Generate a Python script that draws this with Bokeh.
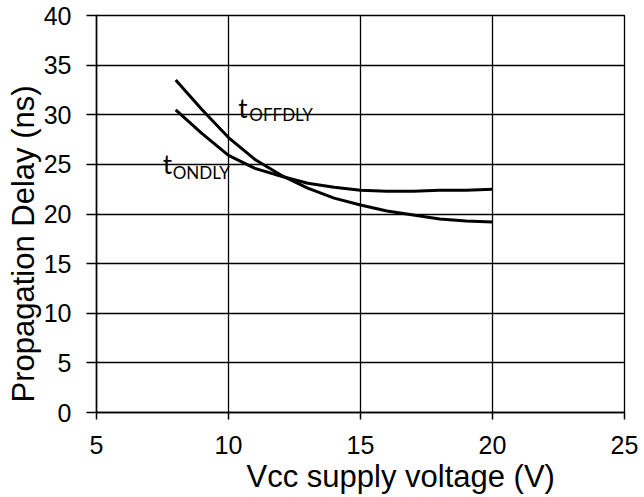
from bokeh.plotting import figure
from bokeh.models import Label, FixedTicker, Title
from bokeh.embed import file_html
from bokeh.resources import INLINE

# Data
vcc = [8, 9, 10, 11, 12, 13, 14, 15, 16, 17, 18, 19, 20]
t_offdly = [33.5, 30.5, 27.7, 25.5, 23.9, 22.6, 21.6, 20.9, 20.3, 19.9, 19.5, 19.3, 19.2]
t_ondly = [30.5, 28.1, 25.9, 24.6, 23.8, 23.1, 22.7, 22.4, 22.3, 22.3, 22.4, 22.4, 22.5]
x_ticks = [5, 10, 15, 20, 25]
y_ticks = [0, 5, 10, 15, 20, 25, 30, 35, 40]
x_title = "Vcc supply voltage (V)"
y_title = "Propagation Delay (ns)"

p = figure(frame_width=528, frame_height=397, output_backend="svg", toolbar_location=None,
           x_range=(5, 25), y_range=(0, 40),
           min_border_left=96, min_border_right=20, min_border_top=15, min_border_bottom=85)
p.background_fill_color = "white"
p.border_fill_color = "white"
p.outline_line_color = "black"
p.outline_line_width = 1.3

p.xaxis.ticker = FixedTicker(ticks=x_ticks)
p.yaxis.ticker = FixedTicker(ticks=y_ticks)
for ax in (p.xaxis, p.yaxis):
    ax.axis_line_color = "black"
    ax.axis_line_width = 1.5
    ax.major_tick_line_color = "black"
    ax.major_tick_line_width = 1.5
    ax.minor_tick_line_color = None
    ax.major_label_text_font = "Liberation Sans"
    ax.major_label_text_font_size = "25px"
    ax.major_label_text_color = "black"
    ax.major_tick_in = 1
p.yaxis.major_tick_out = 10
p.xaxis.major_tick_out = 7
p.yaxis.major_label_standoff = 15
p.xaxis.major_label_standoff = 16

for g in (p.xgrid, p.ygrid):
    g.grid_line_color = "black"
    g.grid_line_width = 1.3
    g.grid_line_alpha = 1.0

p.line(vcc, t_offdly, line_color="black", line_width=3, line_join="round")
p.line(vcc, t_ondly, line_color="black", line_width=3, line_join="round")

# Axis titles as side-panel titles (offset like the reference)
p.add_layout(Title(text=x_title, align="left", offset=150, standoff=0,
                   text_font="Liberation Sans", text_font_size="31px",
                   text_font_style="normal", text_color="black"), "below")
p.add_layout(Title(text=y_title, align="left", offset=10, standoff=0,
                   text_font="Liberation Sans", text_font_size="31px",
                   text_font_style="normal", text_color="black"), "left")

lab_font = "Lato"
p.add_layout(Label(x=10.37, y=30.7, text="t", text_font=lab_font, text_font_size="26px",
                   text_color="black", text_baseline="alphabetic", text_align="left"))
p.add_layout(Label(x=10.79, y=30.06, text="OFFDLY", text_font=lab_font, text_font_size="17px",
                   text_color="black", text_baseline="alphabetic", text_align="left"))
p.add_layout(Label(x=7.51, y=25.0, text="t", text_font=lab_font, text_font_size="26px",
                   text_color="black", text_baseline="alphabetic", text_align="left"))
p.add_layout(Label(x=7.885, y=24.17, text="ONDLY", text_font=lab_font, text_font_size="17px",
                   text_color="black", text_baseline="alphabetic", text_align="left"))

open("out.html", "w").write(file_html(p, INLINE))
